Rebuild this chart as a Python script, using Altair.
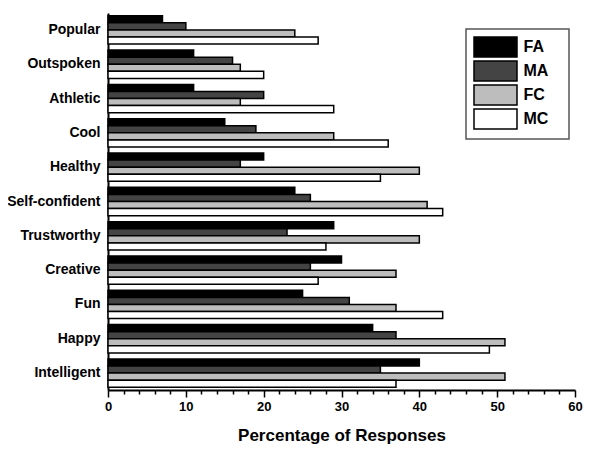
import altair as alt
import pandas as pd

categories = ["Popular", "Outspoken", "Athletic", "Cool", "Healthy", "Self-confident",
              "Trustworthy", "Creative", "Fun", "Happy", "Intelligent"]
series = ["FA", "MA", "FC", "MC"]
fa = [7, 11, 11, 15, 20, 24, 29, 30, 25, 34, 40]
ma = [10, 16, 20, 19, 17, 26, 23, 26, 31, 37, 35]
fc = [24, 17, 17, 29, 40, 41, 40, 37, 37, 51, 51]
mc = [27, 20, 29, 36, 35, 43, 28, 27, 43, 49, 37]
colors = ["#000000", "#444444", "#bdbdbd", "#ffffff"]

rows = []
for s, vals in zip(series, [fa, ma, fc, mc]):
    for c, v in zip(categories, vals):
        rows.append({"trait": c, "group": s, "value": v})
df = pd.DataFrame(rows)

font = "Liberation Sans"

chart = alt.Chart(df).mark_bar(stroke="black", strokeWidth=1.5).encode(
    y=alt.Y("trait:N", sort=categories,
            scale=alt.Scale(paddingInner=0.175, paddingOuter=0.08),
            axis=alt.Axis(title=None, ticks=False, labelPadding=8, labelFont=font,
                          labelFontSize=14, labelFontWeight="bold", labelColor="black",
                          domainColor="black", domainWidth=2)),
    yOffset=alt.YOffset("group:N", sort=series),
    x=alt.X("value:Q", scale=alt.Scale(domain=[0, 60], nice=False),
            axis=alt.Axis(title="Percentage of Responses", values=list(range(0, 61, 2)),
                          labelExpr="datum.value % 10 === 0 ? datum.label : ''",
                          tickSize={"condition": {"test": "datum.value % 10 === 0", "value": 7}, "value": 4},
                          tickColor="black", tickWidth=1.5, domainColor="black", domainWidth=2,
                          grid=False, labelFlush=False, labelFont=font, labelFontSize=13,
                          labelFontWeight="bold", labelColor="black", labelPadding=3,
                          titleFont=font, titleFontSize=17, titleFontWeight="bold",
                          titleColor="black", titlePadding=14)),
    fill=alt.Fill("group:N", sort=series,
                  scale=alt.Scale(domain=series, range=colors),
                  legend=alt.Legend(title="_", titleOrient="right", titleColor="transparent",
                                    titleFontSize=8, titlePadding=9,
                                    orient="none", legendX=358, legendY=16,
                                    symbolType="M-2.15,-1H2.15V1H-2.15Z", symbolSize=400,
                                    symbolOffset=11.5,
                                    symbolStrokeColor="black", symbolStrokeWidth=1.5,
                                    symbolOpacity=1, labelFont=font, labelFontSize=16,
                                    labelFontWeight="bold", labelColor="black", labelOffset=17,
                                    rowPadding=-2, padding=7, strokeColor="#555555",
                                    fillColor="white")),
).properties(
    width=467, height=377,
    autosize=alt.AutoSizeParams(type="none"),
    padding={"left": 100, "top": 5, "right": 17, "bottom": 60},
).configure_view(stroke=None).configure_legend(strokeWidth=1.5)

chart.save("out.html", embed_options={"renderer": "svg", "actions": False})
